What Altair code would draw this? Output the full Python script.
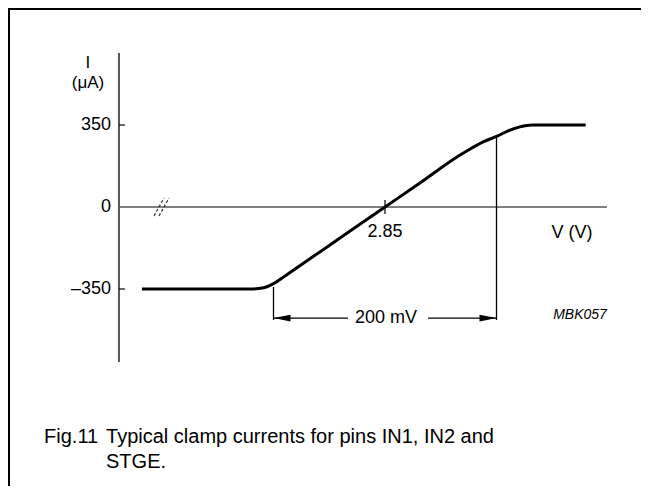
import altair as alt
import pandas as pd

# ---- data ----
curve_v = [2.632, 2.729, 2.740, 2.750, 2.761, 2.80, 2.85, 2.88, 2.917, 2.928, 2.939, 2.950, 2.960, 2.971, 2.982, 3.030]
curve_i = [-350, -350, -346, -327, -292, -164, 0, 98, 221, 252, 280, 301, 324, 342, 350, 350]

y_ticks = [350, 0, -350]
y_tick_labels = ["350", "0", "\u2013350"]
x_tick = 2.85
x_tick_label = "2.85"
span_left, span_right = 2.75, 2.95          # 200 mV bracket
span_label = "200 mV"

axis_v = 2.6114        # voltage at which the current axis is drawn
axis_v_end = 3.049     # right end of the voltage axis
axis_i_top, axis_i_bot = 657, -662
break_v = 2.65

# ---- scales (page -> data) ----
W, H = 633, 478
xs = alt.Scale(domain=[2.51188, 3.07960], nice=False, zero=False)
ys = alt.Scale(domain=[-1190.85, 849.39], nice=False, zero=False)
FONT = "Liberation Sans"

def X(f="x"):
    return alt.X(f"{f}:Q", scale=xs, axis=None)

def Y(f="y"):
    return alt.Y(f"{f}:Q", scale=ys, axis=None)

curve_df = pd.DataFrame({"x": curve_v, "y": curve_i})
curve = alt.Chart(curve_df).mark_line(color="black", strokeWidth=3, interpolate="monotone").encode(x=X(), y=Y())

# axes lines
axis_df = pd.DataFrame({"x": [axis_v], "y": [axis_i_top], "x2": [axis_v], "y2": [axis_i_bot]})
yaxis = alt.Chart(axis_df).mark_rule(color="#555555", strokeWidth=2).encode(
    x=X(), y=Y(), x2="x2:Q", y2="y2:Q")
xaxis_df = pd.DataFrame({"x": [axis_v], "x2": [axis_v_end], "y": [0]})
xaxis = alt.Chart(xaxis_df).mark_rule(color="#555555", strokeWidth=1.6).encode(
    x=X(), x2="x2:Q", y=Y())

# y ticks
yt_df = pd.DataFrame({"x": [axis_v] * 2, "y": [350, -350]})
yticks = alt.Chart(yt_df).mark_rule(color="black", strokeWidth=1.2, x2Offset=6).encode(
    x=X(), x2="x:Q", y=Y())
ylab_df = pd.DataFrame({"x": [axis_v] * 3, "y": y_ticks, "t": y_tick_labels})
ylabels = alt.Chart(ylab_df).mark_text(align="right", baseline="middle", fontSize=18, font=FONT,
                                       color="black", dx=-8).encode(x=X(), y=Y(), text="t:N")

# x tick
xt_df = pd.DataFrame({"x": [x_tick], "y": [0]})
xtick = alt.Chart(xt_df).mark_rule(color="black", strokeWidth=1.2, yOffset=-7, y2Offset=7).encode(
    x=X(), y=Y(), y2="y:Q")
xlab_df = pd.DataFrame({"x": [x_tick], "y": [-108], "t": [x_tick_label]})
xlabel = alt.Chart(xlab_df).mark_text(align="center", baseline="middle", fontSize=18, font=FONT,
                                      color="black").encode(x=X(), y=Y(), text="t:N")

# axis break mark
br_df = pd.DataFrame({"x": [break_v, break_v], "y": [0, 0]})
brk1 = alt.Chart(br_df.iloc[[0]]).mark_rule(color="#333333", strokeWidth=1.2, strokeDash=[3, 2],
                                             xOffset=-8, x2Offset=2, yOffset=9, y2Offset=-9).encode(
    x=X(), x2="x:Q", y=Y(), y2="y:Q")
brk2 = alt.Chart(br_df.iloc[[1]]).mark_rule(color="#333333", strokeWidth=1.2, strokeDash=[3, 2],
                                             xOffset=-3, x2Offset=7, yOffset=9, y2Offset=-9).encode(
    x=X(), x2="x:Q", y=Y(), y2="y:Q")

# 200 mV bracket
ext_df = pd.DataFrame({"x": [span_left, span_right], "y": [-341, 294], "y2": [-482, -482]})
ext = alt.Chart(ext_df).mark_rule(color="black", strokeWidth=1.3).encode(x=X(), y=Y(), y2="y2:Q")
seg1 = alt.Chart(pd.DataFrame({"x": [span_left], "x2": [x_tick], "y": [-474]})).mark_rule(
    color="black", strokeWidth=1.3, x2Offset=-37).encode(x=X(), x2="x2:Q", y=Y())
seg2 = alt.Chart(pd.DataFrame({"x": [x_tick], "x2": [span_right], "y": [-474]})).mark_rule(
    color="black", strokeWidth=1.3, xOffset=43).encode(x=X(), x2="x2:Q", y=Y())
arrL = alt.Chart(pd.DataFrame({"x": [span_left], "y": [-474]})).mark_point(
    shape="M-1,0L1,-0.4L1,0.4Z", size=289, filled=True, color="black", opacity=1, xOffset=8.5).encode(x=X(), y=Y())
arrR = alt.Chart(pd.DataFrame({"x": [span_right], "y": [-474]})).mark_point(
    shape="M1,0L-1,-0.4L-1,0.4Z", size=289, filled=True, color="black", opacity=1, xOffset=-8.5).encode(x=X(), y=Y())
spanlab = alt.Chart(pd.DataFrame({"x": [x_tick], "y": [-474], "t": [span_label]})).mark_text(
    align="center", baseline="middle", fontSize=18, font=FONT, color="black", dx=1).encode(x=X(), y=Y(), text="t:N")

# other labels
lab_df = pd.DataFrame({
    "x": [2.5836, 2.5836],
    "y": [614, 530],
    "t": ["I", "(\u03bcA)"],
})
labels = alt.Chart(lab_df).mark_text(align="center", baseline="middle", fontSize=17, font=FONT,
                                     color="black").encode(x=X(), y=Y(), text="t:N")
vlab = alt.Chart(pd.DataFrame({"x": [3.0177], "y": [-111], "t": ["V (V)"]})).mark_text(
    align="center", baseline="middle", fontSize=18, font=FONT, color="black").encode(x=X(), y=Y(), text="t:N")
code = alt.Chart(pd.DataFrame({"x": [axis_v_end], "y": [-461], "t": ["MBK057"]})).mark_text(
    align="right", baseline="middle", fontSize=14, font=FONT, fontStyle="italic", color="black").encode(
    x=X(), y=Y(), text="t:N")

cap_df = pd.DataFrame({
    "x": [2.5442, 2.5998, 2.5998],
    "y": [-982, -982, -1088],
    "t": ["Fig.11", "Typical clamp currents for pins IN1, IN2 and", "STGE."],
})
caption = alt.Chart(cap_df).mark_text(align="left", baseline="middle", fontSize=20, font=FONT,
                                      color="black").encode(x=X(), y=Y(), text="t:N")

# frame (top and left edges of the figure box)
frame_l = alt.Chart(pd.DataFrame({"a": [0]})).mark_rule(color="black", strokeWidth=2).encode(
    x=alt.value(1))
frame_t = alt.Chart(pd.DataFrame({"a": [0]})).mark_rule(color="black", strokeWidth=2).encode(
    y=alt.value(1))

chart = alt.layer(
    yaxis, xaxis, yticks, ylabels, xtick, xlabel, brk1, brk2,
    ext, seg1, seg2, arrL, arrR, spanlab, labels, vlab, code, caption, curve, frame_l, frame_t,
).properties(width=W, height=H, padding=0, autosize=alt.AutoSizeParams(type="none")).configure_view(
    strokeWidth=0, strokeOpacity=0)

chart.save("out.html", embed_options={"renderer": "svg", "actions": False})
